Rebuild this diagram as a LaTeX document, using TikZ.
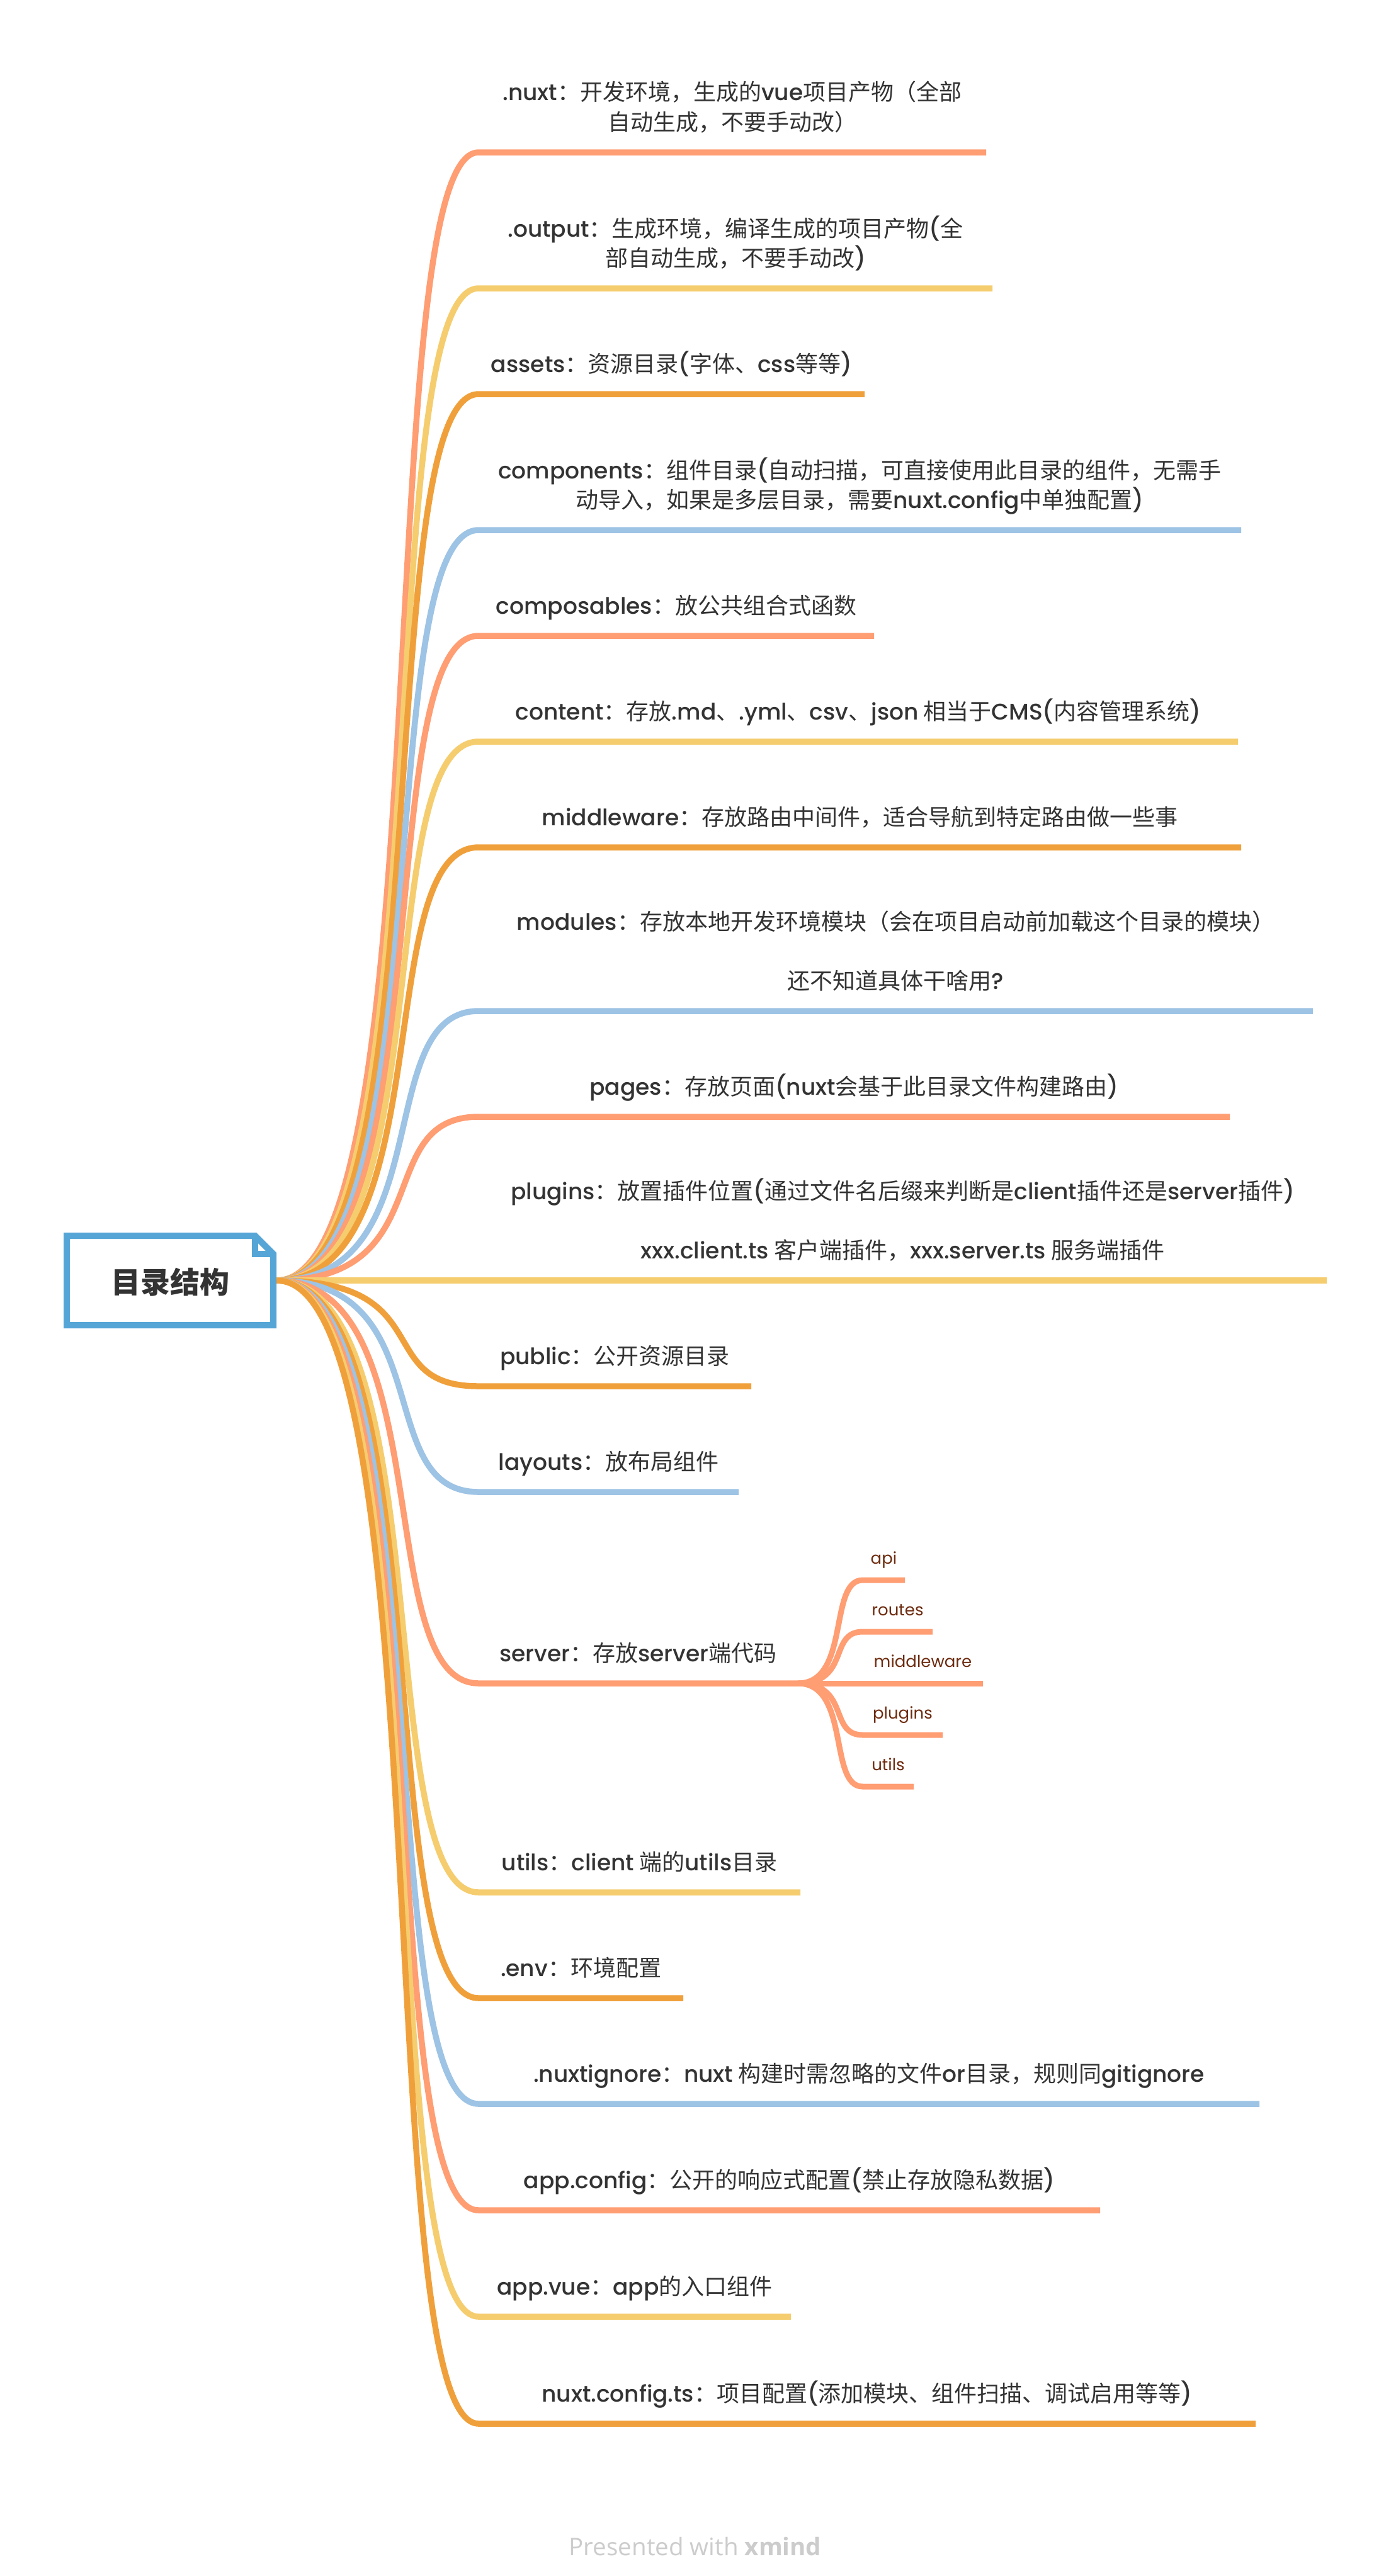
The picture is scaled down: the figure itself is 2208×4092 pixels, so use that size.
\documentclass[tikz,border=0pt]{standalone}
\usepackage{fontspec}
\usetikzlibrary{calc}
\setmainfont{Noto Sans CJK SC}
\newfontfamily\latfont{Poppins}[UprightFont={* Medium}]
\newfontfamily\subfont{Poppins}
\newfontfamily\footfont{Open Sans}
\newcommand\lt[1]{{\latfont #1}}
\definecolor{salmon}{HTML}{FF9D73}
\definecolor{yellowb}{HTML}{F5CD6E}
\definecolor{orangeb}{HTML}{F0A03B}
\definecolor{blueb}{HTML}{9DC3E5}
\definecolor{rootblue}{HTML}{55A6D7}
\definecolor{txt}{HTML}{333333}
\definecolor{subtxt}{HTML}{6D2B0F}
\definecolor{footgray}{HTML}{CCCCCC}
\newcommand\mbranch[5]{%
  \coordinate (#1s) at (760,#3);
  \coordinate (#1e) at (#4,#3);
  \draw[branch,draw=#2] (root.east) .. controls (701,2034) and (588,#3) .. (#1s) -- (#1e);
  \node[lbl,anchor=base] (#1) at ({(760+#4)/2},#3-35) {#5};
}
\newcommand\upline[3]{%
  \node[lbl,anchor=base] (#1u#2) at ($(#1.base)+(0,-47*#2)$) {#3};
}
\newcommand\sbranch[4]{%
  \coordinate (#1s) at (1370,#2);
  \coordinate (#1e) at (#3,#2);
  \draw[subbranch] (servere) .. controls (1351,2674) and (1315,#2) .. (#1s) -- (#1e);
  \node[sublbl,anchor=base] (#1) at ({(1370+#3)/2},#2-26) {#4};
}
\begin{document}
\begin{tikzpicture}[x=1pt,y=-1pt,
  branch/.style={line width=9.5pt},
  subbranch/.style={line width=9pt,draw=salmon},
  lbl/.style={inner sep=0pt,text=txt,font=\fontsize{36}{47}\selectfont},
  sublbl/.style={inner sep=0pt,text=subtxt,font=\subfont\fontsize{26}{30}\selectfont},
]
\useasboundingbox (0,0) rectangle (2208,4092);
\fill[white] (0,0) rectangle (2208,4092);
\node[minimum width=338pt,minimum height=152pt,inner sep=0pt,text=txt,
      font=\bfseries\fontsize{46}{50}\selectfont] (root) at (270,2034) {};

\mbranch{nuxt}{salmon}{242}{1566}{自动生成，不要手动改）}
\upline{nuxt}{1}{\lt{.nuxt}：开发环境，生成的\lt{vue}项目产物（全部}
\mbranch{output}{yellowb}{458}{1576}{部自动生成，不要手动改\lt{)}}
\upline{output}{1}{\lt{.output}：生成环境，编译生成的项目产物\lt{(}全}
\mbranch{assets}{orangeb}{626}{1373}{\lt{assets}：资源目录\lt{(}字体、\lt{css}等等\lt{)}}
\mbranch{components}{blueb}{842}{1971}{动导入，如果是多层目录，需要\lt{nuxt.config}中单独配置\lt{)}}
\upline{components}{1}{\lt{components}：组件目录\lt{(}自动扫描，可直接使用此目录的组件，无需手}
\mbranch{composables}{salmon}{1010}{1388}{\lt{composables}：放公共组合式函数}
\mbranch{content}{yellowb}{1178}{1966}{\lt{content}：存放\lt{.md}、\lt{.yml}、\lt{csv}、\lt{json} 相当于\lt{CMS(}内容管理系统\lt{)}}
\mbranch{middleware}{orangeb}{1346}{1971}{\lt{middleware}：存放路由中间件，适合导航到特定路由做一些事}
\mbranch{modules}{blueb}{1606}{2085}{还不知道具体干啥用\lt{?}}
\upline{modules}{2}{\lt{modules}：存放本地开发环境模块（会在项目启动前加载这个目录的模块）}
\mbranch{pages}{salmon}{1774}{1953}{\lt{pages}：存放页面\lt{(nuxt}会基于此目录文件构建路由\lt{)}}
\mbranch{plugins}{yellowb}{2034}{2107}{\lt{xxx.client.ts} 客户端插件，\lt{xxx.server.ts} 服务端插件}
\upline{plugins}{2}{\lt{plugins}：放置插件位置\lt{(}通过文件名后缀来判断是\lt{client}插件还是\lt{server}插件\lt{)}}
\mbranch{public}{orangeb}{2202}{1193}{\lt{public}：公开资源目录}
\mbranch{layouts}{blueb}{2370}{1173}{\lt{layouts}：放布局组件}
\mbranch{server}{salmon}{2674}{1267}{\lt{server}：存放\lt{server}端代码}
\mbranch{utils}{yellowb}{3006}{1271}{\lt{utils}：\lt{client} 端的\lt{utils}目录}
\mbranch{env}{orangeb}{3174}{1085}{\lt{.env}：环境配置}
\mbranch{nuxtignore}{blueb}{3342}{2000}{\lt{.nuxtignore}：\lt{nuxt} 构建时需忽略的文件\lt{or}目录，规则同\lt{gitignore}}
\mbranch{appconfig}{salmon}{3511}{1747}{\lt{app.config}：公开的响应式配置\lt{(}禁止存放隐私数据\lt{)}}
\mbranch{appvue}{yellowb}{3680}{1256}{\lt{app.vue}：\lt{app}的入口组件}
\mbranch{nuxtconfig}{orangeb}{3850}{1994}{\lt{nuxt.config.ts}：项目配置\lt{(}添加模块、组件扫描、调试启用等等\lt{)}}

\sbranch{sapi}{2510}{1437}{api}
\sbranch{sroutes}{2592}{1481}{routes}
\sbranch{smiddleware}{2674}{1561}{middleware}
\sbranch{splugins}{2756}{1497}{plugins}
\sbranch{sutils}{2838}{1451}{utils}

\draw[rootblue,line width=10pt,line join=miter] (106,1963) -- (405,1963) -- (434,1992) -- (434,2105) -- (106,2105) -- cycle;
\draw[rootblue,line width=10pt] (405,1963) -- (405,1992) -- (434,1992);
\node[text=txt,font=\bfseries\fontsize{47}{50}\selectfont,inner sep=0pt] (roottext) at (270,2037) {目录结构};

\node[text=footgray,font=\footfont\fontsize{38.5}{42}\selectfont,inner sep=0pt] (footer) at (1104,4045) {Presented with \textbf{xmind}};
\end{tikzpicture}
\end{document}
